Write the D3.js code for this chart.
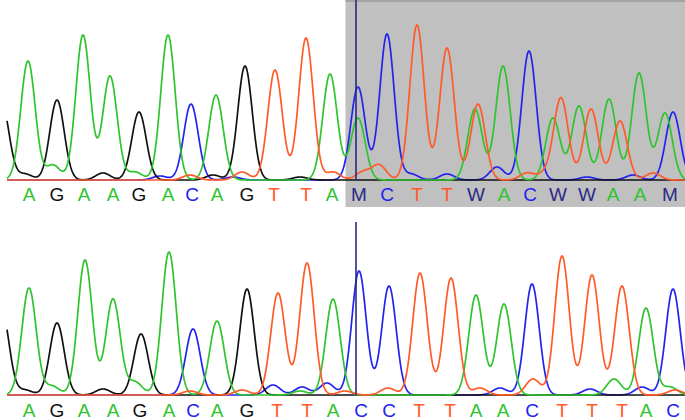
<!DOCTYPE html>
<html><head><meta charset="utf-8">
<script src="https://cdn.jsdelivr.net/npm/d3@7"></script>
<style>html,body{margin:0;padding:0;background:#fff;}svg{display:block;}</style>
</head><body>
<svg id="chart" width="685" height="420"></svg>
<script>
// ---------- DATA ----------
// scan range shown
const scanStart = 7, scanEnd = 685;
// Top trace (sample) peaks: [scan position, signal]
const topA = [[28,119],[53,15],[83,145],[110,104],[135,8],[168,145],[216,85],[330,106],[358,62],[475,71],[503,114],[553,62],[579,74],[609,81],[639,107],[665,67]];
const topG = [[2,75],[25,6],[57,80],[103,7],[139,68],[213,5],[245,114],[300,3]];
const topC = [[160,4],[191,76],[233,3],[358,93],[387,146],[411,6],[447,6],[497,13],[529,129],[587,3],[633,5],[673,68]];
const topT = [[190,5],[242,8],[275,110],[306,142],[333,8],[363,8],[379,15],[417,155],[447,132],[478,76],[527,7],[545,6],[561,82],[591,71],[620,59],[653,7]];
const topCalls = ["A","G","A","A","G","A","C","A","G","T","T","A","M","C","T","T","W","A","C","W","W","A","A","M"];
const topCallPos = [29,57,84,113,139,168,192,217,247,274,306,332,359,387,417,447,476,504,530,558,587,613,640,670];

// Bottom trace (reference) peaks
const botA = [[29,107],[52,9],[85,135],[113,96],[135,13],[169,143],[217,74],[300,4],[333,96],[476,100],[504,91],[614,16],[646,87],[670,8]];
const botG = [[2,83],[25,5],[57,72],[103,6],[141,61],[247,106]];
const botC = [[193,66],[273,10],[302,8],[327,12],[359,124],[389,109],[500,7],[532,111],[590,6],[642,8],[673,106]];
const botT = [[190,4],[242,5],[278,102],[307,132],[345,4],[388,7],[420,122],[451,117],[480,7],[533,16],[562,139],[592,120],[622,109],[675,5]];
const botCalls = ["A","G","A","A","G","A","C","A","G","T","T","A","C","C","T","T","A","A","C","T","T","T","A","C"];
const botCallPos = [29,57,84,113,140,169,193,217,247,277,307,333,361,389,419,450,476,503,532,562,592,622,646,673];

// selection starts at call index 12 (top trace), cursor at scan 356
const selStartIndex = 12;
const cursorScan = 356;
const cursorTop = [180, 173]; // signal reached by cursor line in each panel

// ---------- STYLE ----------
const colors = {A:"#2ec42e", G:"#111111", C:"#2323f0", T:"#ff5a28", M:"#2a2a86", W:"#2a2a86", N:"#555"};
const sigma = 7.2;

const svg = d3.select("#chart");
const x = d3.scaleLinear().domain([0, 685]).range([0, 685]);
const yTop = d3.scaleLinear().domain([0, 180]).range([180, 0]);
const yBot = d3.scaleLinear().domain([0, 180]).range([395, 215]);

const scans = d3.range(scanStart, scanEnd + 1, 0.5);
function trace(peaks){
  return scans.map(s => [s, d3.sum(peaks, p => p[1] * Math.exp(-((s - p[0]) ** 2) / (2 * sigma * sigma)))]);
}

// gray selection box on top panel
const selX = x((topCallPos[selStartIndex - 1] + topCallPos[selStartIndex]) / 2);
svg.append("rect").attr("x", selX).attr("y", 0).attr("width", 685 - selX).attr("height", 207).attr("fill", "#c0c0c0");
svg.append("rect").attr("x", selX).attr("y", 0).attr("width", 685 - selX).attr("height", 2).attr("fill", "#a4a4a4");

function panel(y, chans, calls, callPos, textY, cTop){
  const line = d3.line().x(d => x(d[0])).y(d => y(d[1]));
  const order = [["C", chans.C], ["G", chans.G], ["A", chans.A], ["T", chans.T]];
  order.forEach(([b, peaks]) => {
    svg.append("path").datum(trace(peaks)).attr("d", line)
      .attr("fill", "none").attr("stroke", colors[b]).attr("stroke-width", 1.7)
      .attr("stroke-linejoin", "round");
  });
  svg.append("line").attr("x1", x(cursorScan)).attr("x2", x(cursorScan))
    .attr("y1", y(cTop)).attr("y2", y(0)).attr("stroke", "#2a2a86").attr("stroke-width", 1.6);
  svg.selectAll(null).data(calls).enter().append("text")
    .attr("x", (d, i) => x(callPos[i])).attr("y", textY)
    .attr("text-anchor", "middle")
    .attr("font-family", "Liberation Sans, Arial, sans-serif").attr("font-size", 19)
    .attr("fill", d => colors[d]).text(d => d);
}

panel(yTop, {A: topA, G: topG, C: topC, T: topT}, topCalls, topCallPos, 201, cursorTop[0]);
panel(yBot, {A: botA, G: botG, C: botC, T: botT}, botCalls, botCallPos, 417, cursorTop[1]);
</script>
</body></html>
